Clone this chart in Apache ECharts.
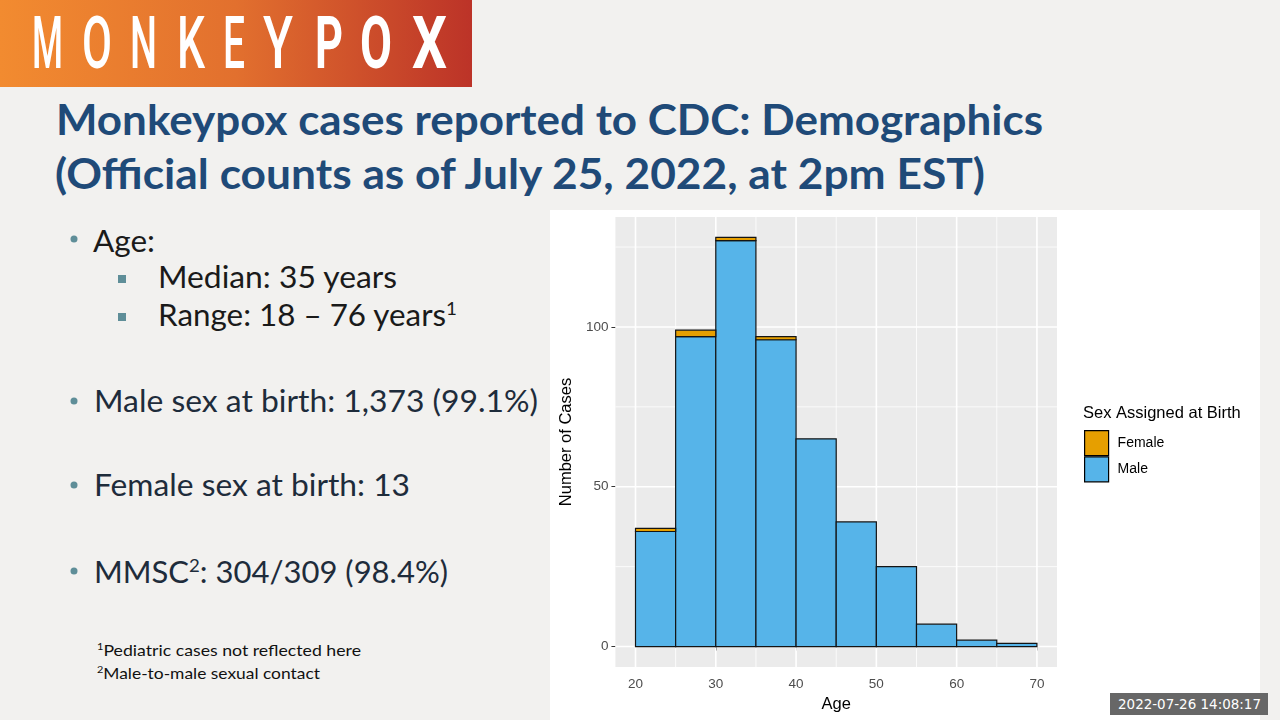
<!DOCTYPE html>
<html>
<head>
<meta charset="utf-8">
<script src="https://cdn.jsdelivr.net/npm/echarts@6/dist/echarts.min.js"></script>
<style>
  html, body { margin:0; padding:0; background:#F2F1EF; }
  #slide { position:absolute; left:0; top:0; width:1280px; height:720px; }
  #chart { position:absolute; left:550px; top:210px; width:710px; height:510px; background:#FFFFFF; }
  #stamp { position:absolute; left:0; top:0; width:1280px; height:720px; pointer-events:none; }
</style>
</head>
<body>
<svg id="slide" width="1280" height="720" xmlns="http://www.w3.org/2000/svg">
  <defs>
    <linearGradient id="bannerGrad" x1="0" y1="0" x2="1" y2="0">
      <stop offset="0" stop-color="#F28B30"/>
      <stop offset="0.5" stop-color="#E2702E"/>
      <stop offset="1" stop-color="#BC3328"/>
    </linearGradient>
  </defs>
  <rect x="0" y="0" width="1280" height="720" fill="#F2F1EF"/>
  <rect x="0" y="0" width="472" height="87" fill="url(#bannerGrad)"/>
  <g id="banner" font-family="Roboto" font-size="72" fill="#FFFFFF"></g>

  <g font-family="Lato" font-weight="bold" font-size="42" fill="#1F4A78">
    <text x="56" y="135" textLength="987" lengthAdjust="spacingAndGlyphs">Monkeypox cases reported to CDC: Demographics</text>
    <text x="55" y="189" textLength="930" lengthAdjust="spacingAndGlyphs">(Official counts as of July 25, 2022, at 2pm EST)</text>
  </g>

  <g fill="#5F8E98">
    <circle cx="74" cy="239" r="3.5"/>
    <rect x="118" y="275" width="8" height="8"/>
    <rect x="118" y="313" width="8" height="8"/>
    <circle cx="74" cy="401" r="3.5"/>
    <circle cx="74" cy="485" r="3.5"/>
    <circle cx="74" cy="571" r="3.5"/>
  </g>

  <g font-family="Lato" font-size="30">
    <text x="93" y="252" fill="#1A1A1A" textLength="62" lengthAdjust="spacingAndGlyphs">Age:</text>
    <text x="158" y="288" fill="#1A1A1A" textLength="239" lengthAdjust="spacingAndGlyphs">Median: 35 years</text>
    <text x="158" y="326" fill="#1A1A1A" textLength="299" lengthAdjust="spacingAndGlyphs">Range: 18 – 76 years<tspan dy="-11" font-size="18">1</tspan></text>
    <text x="94" y="412" fill="#1E2C3B" textLength="444" lengthAdjust="spacingAndGlyphs">Male sex at birth: 1,373 (99.1%)</text>
    <text x="94" y="496" fill="#1E2C3B" textLength="316" lengthAdjust="spacingAndGlyphs">Female sex at birth: 13</text>
    <text x="94" y="583" fill="#1E2C3B" textLength="354" lengthAdjust="spacingAndGlyphs">MMSC<tspan dy="-11" font-size="18">2</tspan><tspan dy="11">: 304/309 (98.4%)</tspan></text>
  </g>

  <g font-family="Lato" font-size="16" fill="#111111">
    <text x="97" y="656" textLength="264" lengthAdjust="spacingAndGlyphs"><tspan font-size="10" dy="-6">1</tspan><tspan dy="6">Pediatric cases not reflected  here</tspan></text>
    <text x="97" y="679" textLength="223" lengthAdjust="spacingAndGlyphs"><tspan font-size="10" dy="-6">2</tspan><tspan dy="6">Male-to-male sexual contact</tspan></text>
  </g>
</svg>

<div id="chart"></div>

<svg id="stamp" width="1280" height="720" xmlns="http://www.w3.org/2000/svg">
  <rect x="1110" y="693" width="158" height="22" fill="#676767"/>
  <text x="1118" y="709" font-family="DejaVu Sans" font-size="13.5" fill="#FFFFFF" textLength="143" lengthAdjust="spacingAndGlyphs">2022-07-26 14:08:17</text>
</svg>

<script>
// ---- Data ----
const binEdges = [20, 25, 30, 35, 40, 45, 50, 55, 60, 65, 70];
const maleCounts = [36, 97, 127, 96, 65, 39, 25, 7, 2, 1];
const femaleCounts = [1, 2, 1, 1, 0, 0, 0, 0, 0, 0];
const xTickValues = [20, 30, 40, 50, 60, 70];
const yTickValues = [0, 50, 100];
const xGridMajor = [20, 30, 40, 50, 60, 70];
const xGridMinor = [25, 35, 45, 55, 65];
const yGridMajor = [0, 50, 100];
const yGridMinor = [25, 75, 125];
const seriesNames = ['Female', 'Male'];

// ---- Banner letters ----
(function () {
  const letters = ['M','O','N','K','E','Y','P','O','X'];
  const xs = [32, 82, 130, 177, 223, 263, 315, 360, 412];
  const ws = [31, 30, 27, 28, 22, 30, 28, 32, 35];
  const g = document.getElementById('banner');
  letters.forEach((ch, i) => {
    const t = document.createElementNS('http://www.w3.org/2000/svg', 'text');
    t.setAttribute('x', xs[i]);
    t.setAttribute('y', 68);
    t.setAttribute('textLength', ws[i]);
    t.setAttribute('lengthAdjust', 'spacingAndGlyphs');
    t.setAttribute('font-weight', i >= 6 ? '700' : '500');
    t.textContent = ch;
    g.appendChild(t);
  });
})();

// ---- Build histogram data ----
const maleData = maleCounts.map((v, i) => [binEdges[i], binEdges[i + 1], 0, v]);
const femaleData = femaleCounts.map((v, i) => [binEdges[i], binEdges[i + 1], maleCounts[i], v]);

const gridLineData = []
  .concat(xGridMajor.map(v => ['x', v, 1]))
  .concat(xGridMinor.map(v => ['x', v, 0]))
  .concat(yGridMajor.map(v => ['y', v, 1]))
  .concat(yGridMinor.map(v => ['y', v, 0]));

function renderBin(color) {
  return function (params, api) {
    const x0 = api.value(0), x1 = api.value(1), base = api.value(2), val = api.value(3);
    if (!val) return null;
    const p0 = api.coord([x0, base]);
    const p1 = api.coord([x1, base + val]);
    return {
      type: 'rect',
      shape: { x: p0[0], y: p1[1], width: p1[0] - p0[0], height: p0[1] - p1[1] },
      style: { fill: color, stroke: '#141414', lineWidth: 1.2 }
    };
  };
}

const chart = echarts.init(document.getElementById('chart'), null, { renderer: 'canvas' });
const FONT = 'Liberation Sans, Arial, sans-serif';

chart.setOption({
  backgroundColor: '#FFFFFF',
  animation: false,
  textStyle: { fontFamily: FONT },
  grid: {
    left: 63, top: 7, width: 444, height: 450,
    show: true, backgroundColor: '#EBEBEB', borderWidth: 0
  },
  xAxis: {
    type: 'value', min: 17.5, max: 72.5,
    axisLine: { show: false },
    axisTick: { show: true, customValues: xTickValues, length: 4, lineStyle: { color: '#333333', width: 1 } },
    axisLabel: { customValues: xTickValues, color: '#4D4D4D', fontSize: 13.5, margin: 10, fontFamily: FONT },
    splitLine: { show: false },
    name: 'Age', nameLocation: 'middle', nameGap: 28,
    nameTextStyle: { color: '#000000', fontSize: 16.5, fontFamily: FONT }
  },
  yAxis: {
    type: 'value', min: -6.4, max: 134.4,
    axisLine: { show: false },
    axisTick: { show: true, customValues: yTickValues, length: 4, lineStyle: { color: '#333333', width: 1 } },
    axisLabel: { customValues: yTickValues, color: '#4D4D4D', fontSize: 13.5, margin: 7, fontFamily: FONT },
    splitLine: { show: false },
    name: 'Number of Cases', nameLocation: 'middle', nameGap: 33, nameRotate: 90,
    nameTextStyle: { color: '#000000', fontSize: 16.5, fontFamily: FONT }
  },
  legend: {
    data: seriesNames,
    orient: 'vertical', left: 534, top: 220, padding: 0,
    itemWidth: 24, itemHeight: 25, itemGap: 0, icon: 'rect',
    itemStyle: { borderColor: '#000000', borderWidth: 1.2 },
    textStyle: { color: '#000000', fontSize: 14, fontFamily: FONT, padding: [0, 0, 0, 4] },
    selectedMode: false
  },
  graphic: [{
    type: 'text', left: 533, top: 195,
    style: { text: 'Sex Assigned at Birth', fontSize: 16.5, fill: '#000000', fontFamily: FONT }
  }],
  series: [
    {
      type: 'custom', name: 'gridlines', silent: true, z: 1,
      data: gridLineData,
      renderItem: function (params, api) {
        const cs = params.coordSys;
        const dir = gridLineData[params.dataIndex][0];
        const v = gridLineData[params.dataIndex][1];
        const major = gridLineData[params.dataIndex][2];
        const w = major ? 1.6 : 0.8;
        if (dir === 'x') {
          const p = api.coord([v, 0]);
          return { type: 'line', shape: { x1: p[0], y1: cs.y, x2: p[0], y2: cs.y + cs.height }, style: { stroke: '#FFFFFF', lineWidth: w } };
        } else {
          const p = api.coord([20, v]);
          return { type: 'line', shape: { x1: cs.x, y1: p[1], x2: cs.x + cs.width, y2: p[1] }, style: { stroke: '#FFFFFF', lineWidth: w } };
        }
      },
      encode: { x: 1, y: 1 }
    },
    {
      type: 'custom', name: 'Male', z: 3,
      itemStyle: { color: '#56B4E9' },
      data: maleData,
      encode: { x: [0, 1], y: [2, 3] },
      renderItem: renderBin('#56B4E9')
    },
    {
      type: 'custom', name: 'Female', z: 4,
      itemStyle: { color: '#E69F00' },
      data: femaleData,
      encode: { x: [0, 1], y: [2, 3] },
      renderItem: renderBin('#E69F00')
    }
  ]
});
</script>
</body>
</html>
